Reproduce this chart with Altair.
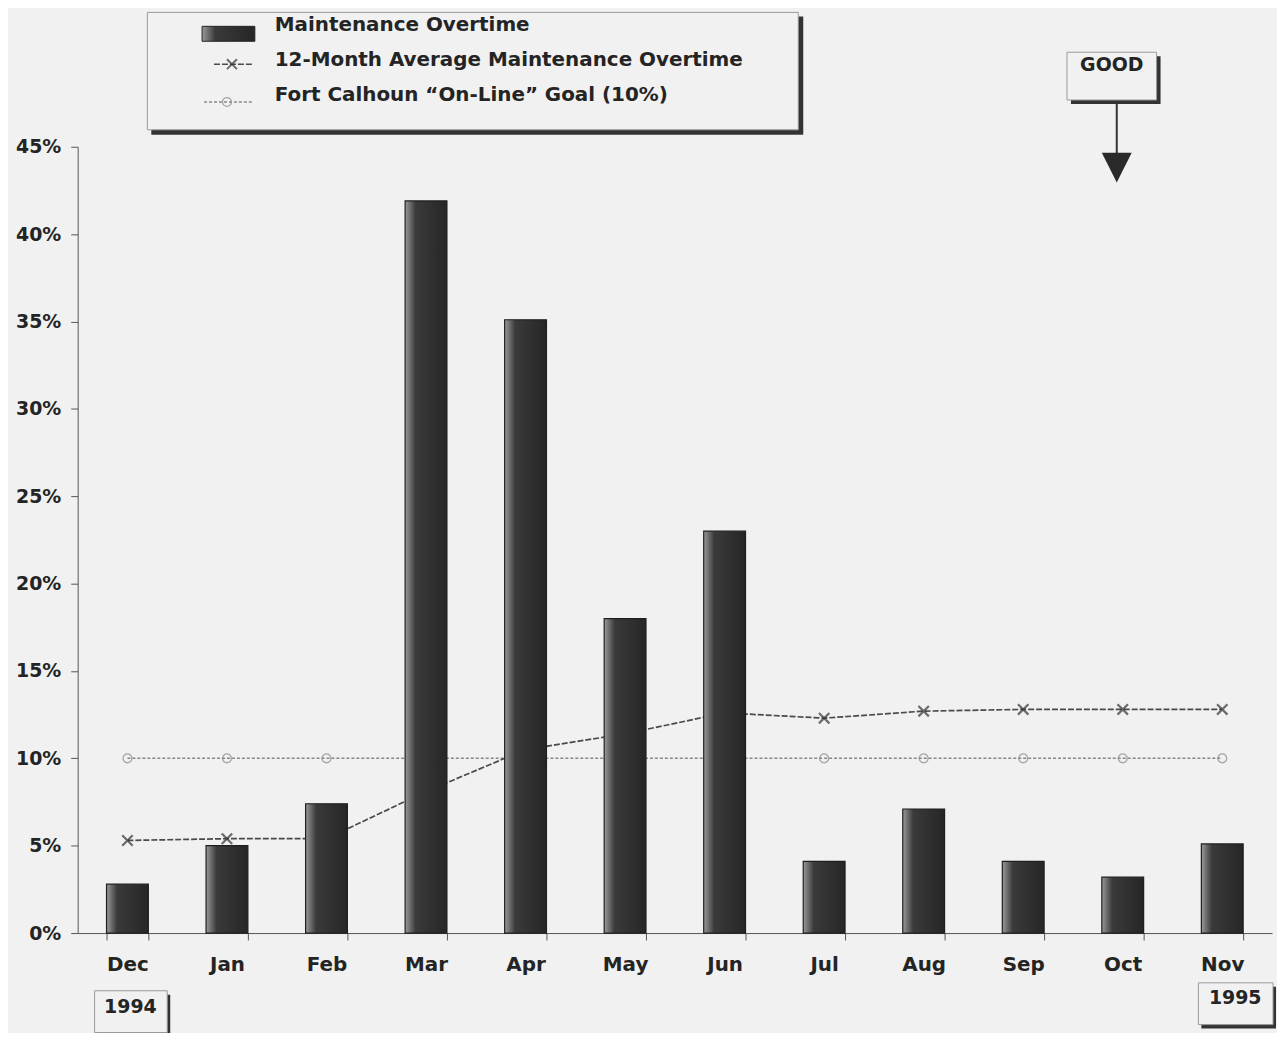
import altair as alt
import pandas as pd

months = ["Dec", "Jan", "Feb", "Mar", "Apr", "May", "Jun", "Jul", "Aug", "Sep", "Oct", "Nov"]
overtime = [0.028, 0.050, 0.074, 0.419, 0.351, 0.180, 0.230, 0.041, 0.071, 0.041, 0.032, 0.051]
avg12 = [0.053, 0.054, 0.054, 0.081, 0.105, 0.114, 0.126, 0.123, 0.127, 0.128, 0.128, 0.128]
goal = [0.10] * 12
y_ticks = [0.0, 0.05, 0.10, 0.15, 0.20, 0.25, 0.30, 0.35, 0.40, 0.45]

FONT = "DejaVu Sans"
BG = "#f1f1f1"
INK = "#242424"

df = pd.DataFrame({"month": months, "overtime": overtime, "avg": avg12, "goal": goal})

xscale = alt.Scale(domain=months, paddingInner=0.58, paddingOuter=0.29)
yscale = alt.Scale(domain=[0, 0.45], nice=False)

xenc = alt.X("month:N", scale=xscale, sort=months,
             axis=alt.Axis(title=None, labelAngle=0, tickBand="extent", tickSize=7,
                           domainColor="#555", tickColor="#555", labelFont=FONT,
                           labelFontSize=20, labelFontWeight="bold", labelColor=INK,
                           labelPadding=15))
yaxis = alt.Axis(title=None, values=y_ticks, format=".0%", grid=False, tickSize=7,
                 domainColor="#555", tickColor="#555", labelFont=FONT, labelFontSize=19,
                 labelFontWeight="bold", labelColor=INK, labelPadding=10)

base = alt.Chart(df)
X_SHAPE = "M-1,-1L1,1M-1,1L1,-1"

goal_line = base.mark_line(color="#888", strokeWidth=1.4, strokeDash=[3, 2]).encode(
    x=xenc, y=alt.Y("goal:Q", scale=yscale, axis=yaxis))
goal_pts = base.mark_point(shape="circle", filled=False, color="#888", size=80, strokeWidth=1.3).encode(
    x=alt.X("month:N", scale=xscale, sort=months), y=alt.Y("goal:Q", scale=yscale))

avg_line = base.mark_line(color="#4a4a4a", strokeWidth=1.7, strokeDash=[6, 2]).encode(
    x=alt.X("month:N", scale=xscale, sort=months), y=alt.Y("avg:Q", scale=yscale))
avg_pts = base.mark_point(shape=X_SHAPE, filled=False, color="#333", size=110,
                          strokeWidth=2.2).encode(
    x=alt.X("month:N", scale=xscale, sort=months), y=alt.Y("avg:Q", scale=yscale))

bar_fill = alt.LinearGradient(gradient="linear", x1=0, x2=1, y1=0, y2=0,
                              stops=[alt.GradientStop(offset=0, color="#9a9a9a"),
                                     alt.GradientStop(offset=0.25, color="#3a3a3a"),
                                     alt.GradientStop(offset=1, color="#262626")])
bars = base.mark_bar(color=bar_fill, stroke="#1e1e1e", strokeWidth=1.2).encode(
    x=alt.X("month:N", scale=xscale, sort=months), y=alt.Y("overtime:Q", scale=yscale))

one = pd.DataFrame({"a": [0]})
dec = alt.Chart(one)


def rect(x1, x2, y1, y2, fill, stroke=None, sw=1):
    kw = dict(fill=fill)
    if stroke:
        kw.update(stroke=stroke, strokeWidth=sw)
    return dec.mark_rect(**kw).encode(x=alt.value(x1), x2=alt.value(x2),
                                      y=alt.value(y1), y2=alt.value(y2))


def text(s, x, y, size=20, align="left"):
    return dec.mark_text(text=s, font=FONT, fontSize=size, fontWeight="bold", color=INK,
                         align=align, baseline="middle").encode(x=alt.value(x), y=alt.value(y))


# legend box
legend = [
    rect(74, 729, -131, -12, "#333"),
    rect(70, 724, -135, -17, BG, "#999", 1),
    rect(125, 178, -121, -106, bar_fill, "#222", 1),
    dec.mark_rule(color="#4a4a4a", strokeWidth=1.5, strokeDash=[6, 2]).encode(
        x=alt.value(137), x2=alt.value(177), y=alt.value(-83)),
    dec.mark_point(shape=X_SHAPE, filled=False, color="#333", size=100, strokeWidth=2).encode(
        x=alt.value(155), y=alt.value(-83)),
    dec.mark_rule(color="#888", strokeWidth=1.3, strokeDash=[3, 2]).encode(
        x=alt.value(127), x2=alt.value(177), y=alt.value(-45)),
    dec.mark_point(shape="circle", filled=False, color="#888", size=80, strokeWidth=1.3).encode(
        x=alt.value(150), y=alt.value(-45)),
    text("Maintenance Overtime", 198, -122),
    text("12-Month Average Maintenance Overtime", 198, -87),
    text("Fort Calhoun \u201cOn-Line\u201d Goal (10%)", 198, -52),
]

# GOOD indicator
good = [
    rect(998, 1088, -91, -43, "#333"),
    rect(994, 1084, -95, -47, BG, "#999", 1),
    text("GOOD", 1039, -82, size=19, align="center"),
    dec.mark_rule(color="#333", strokeWidth=2).encode(x=alt.value(1044), y=alt.value(-45), y2=alt.value(8)),
    dec.mark_point(shape="M-1,-1L1,-1L0,1Z", filled=True, color="#2a2a2a", size=900, opacity=1).encode(
        x=alt.value(1044), y=alt.value(21)),
]

# year boxes
years = [
    rect(20, 93, 852, 894, "#333"),
    rect(17, 90, 848, 890, BG, "#999", 1),
    text("1994", 53, 864, size=19, align="center"),
    rect(1129, 1204, 844, 886, "#333"),
    rect(1126, 1201, 840, 882, BG, "#999", 1),
    text("1995", 1163, 855, size=19, align="center"),
]

chart = alt.layer(goal_line, goal_pts, avg_line, avg_pts, bars, *legend, *good, *years).properties(
    width=1200, height=790, background=BG,
    padding={"left": 70, "top": 137, "right": 5, "bottom": 98},
    autosize=alt.AutoSizeParams(type="none"),
).configure_view(stroke=None)

chart.save("out.html", embed_options={"renderer": "svg", "actions": False})
